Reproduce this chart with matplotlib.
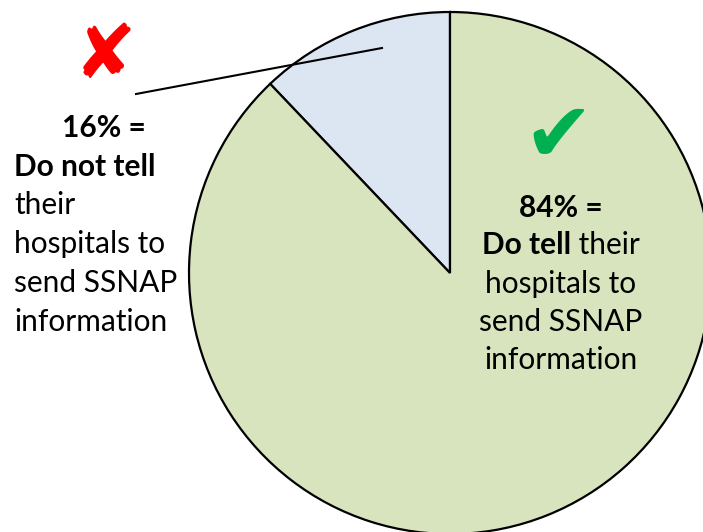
import matplotlib
matplotlib.use("Agg")
import matplotlib.pyplot as plt

# shares as drawn in the picture (labels say 16 / 84)
slice_share = [12.1, 87.9]
slice_colors = ['#DCE6F2', '#D7E4BD']
pct_no = "16%"
pct_yes = "84%"

W, H = 703, 532
fig = plt.figure(figsize=(W / 100, H / 100), dpi=100)
ax = fig.add_axes([0, 0, 1, 1])

fam = ['Lato', 'DejaVu Sans']
fs = 21.5

ax.pie(slice_share, colors=slice_colors, startangle=90, counterclock=True,
       center=(450, H - 273), radius=261, frame=True,
       wedgeprops=dict(edgecolor='black', linewidth=1.6))
ax.set_aspect('equal')
ax.set_xlim(0, W)
ax.set_ylim(0, H)
ax.axis('off')

# leader line
ax.plot([136, 382], [H - 94, H - 48], color='black', lw=1.5)

# marks
ax.text(105, H - 58, "\u2718", color='#FF0000', fontsize=54, ha='center', va='center',
        family='DejaVu Sans')
ax.text(558, H - 137, "\u2714", color='#00B050', fontsize=60, ha='center', va='center',
        family='DejaVu Sans')

# left block
ax.text(104, H - 128, f"{pct_no} =", fontsize=fs, weight='bold', ha='center', va='center', family=fam)
ax.text(14, H - 167, "Do not tell", fontsize=fs, weight='bold', ha='left', va='center', family=fam)
for i, s in enumerate(["their", "hospitals to", "send SSNAP", "information"]):
    ax.text(14, H - (205 + 39 * i), s, fontsize=fs, ha='left', va='center', family=fam)

# right block
cx = 561
ax.text(cx, H - 208, f"{pct_yes} =", fontsize=fs, weight='bold', ha='center', va='center', family=fam)
fig.canvas.draw()
r = fig.canvas.get_renderer()
tb = ax.text(0, 0, "Do tell", fontsize=fs, weight='bold', family=fam)
tn = ax.text(0, 0, " their", fontsize=fs, family=fam)
wb = tb.get_window_extent(r).width
wn = tn.get_window_extent(r).width
x0 = cx - (wb + wn) / 2
tb.set_position((x0, H - 245)); tb.set_va('center')
tn.set_position((x0 + wb, H - 245)); tn.set_va('center')
for i, s in enumerate(["hospitals to", "send SSNAP", "information"]):
    ax.text(cx, H - (284 + 38 * i), s, fontsize=fs, ha='center', va='center', family=fam)

fig.savefig("out.png", dpi=100)
